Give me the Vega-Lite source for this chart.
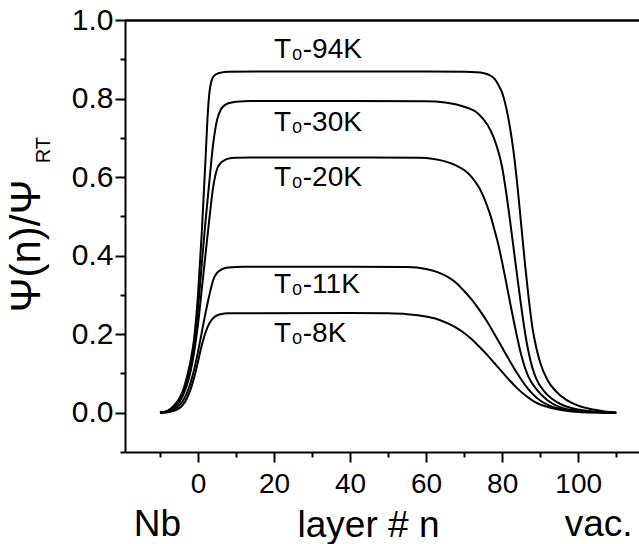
{
  "$schema": "https://vega.github.io/schema/vega-lite/v6.json",
  "width": 514,
  "height": 432,
  "autosize": {"type": "none"},
  "padding": {"left": 125, "top": 20, "right": 0, "bottom": 92},
  "background": "white",
  "config": {
    "view": {"stroke": null},
    "font": "Liberation Sans",
    "axis": {
      "domainColor": "black", "domainWidth": 2, "tickColor": "black", "tickWidth": 2,
      "labelColor": "black", "labelFont": "Liberation Sans", "grid": false,
      "titleColor": "black", "titleFont": "Liberation Sans", "titleFontWeight": "normal"
    }
  },
  "datasets": {
    "curves": [
      {"n": -10, "psi": 0, "T": "94K"}, {"n": -9, "psi": 0.002, "T": "94K"}, {"n": -8, "psi": 0.005, "T": "94K"}, {"n": -7, "psi": 0.012, "T": "94K"}, {"n": -6, "psi": 0.022, "T": "94K"}, {"n": -5, "psi": 0.035, "T": "94K"}, {"n": -4, "psi": 0.055, "T": "94K"}, {"n": -3, "psi": 0.088, "T": "94K"}, {"n": -2, "psi": 0.13, "T": "94K"}, {"n": -1, "psi": 0.19, "T": "94K"}, {"n": 0, "psi": 0.30, "T": "94K"}, {"n": 1, "psi": 0.46, "T": "94K"}, {"n": 2, "psi": 0.65, "T": "94K"}, {"n": 2.5, "psi": 0.75, "T": "94K"}, {"n": 3, "psi": 0.815, "T": "94K"}, {"n": 3.5, "psi": 0.843, "T": "94K"}, {"n": 4, "psi": 0.855, "T": "94K"}, {"n": 5, "psi": 0.863, "T": "94K"}, {"n": 6, "psi": 0.866, "T": "94K"}, {"n": 8, "psi": 0.868, "T": "94K"}, {"n": 20, "psi": 0.869, "T": "94K"}, {"n": 40, "psi": 0.869, "T": "94K"}, {"n": 60, "psi": 0.869, "T": "94K"}, {"n": 70, "psi": 0.868, "T": "94K"}, {"n": 73, "psi": 0.867, "T": "94K"}, {"n": 75, "psi": 0.865, "T": "94K"}, {"n": 77, "psi": 0.858, "T": "94K"}, {"n": 78, "psi": 0.85, "T": "94K"}, {"n": 79, "psi": 0.835, "T": "94K"}, {"n": 80, "psi": 0.815, "T": "94K"}, {"n": 81, "psi": 0.78, "T": "94K"}, {"n": 82, "psi": 0.73, "T": "94K"}, {"n": 83, "psi": 0.665, "T": "94K"}, {"n": 84, "psi": 0.58, "T": "94K"}, {"n": 85, "psi": 0.48, "T": "94K"}, {"n": 86, "psi": 0.38, "T": "94K"}, {"n": 87, "psi": 0.29, "T": "94K"}, {"n": 88, "psi": 0.215, "T": "94K"}, {"n": 89, "psi": 0.165, "T": "94K"}, {"n": 90, "psi": 0.128, "T": "94K"}, {"n": 92, "psi": 0.082, "T": "94K"}, {"n": 94, "psi": 0.056, "T": "94K"}, {"n": 97, "psi": 0.032, "T": "94K"}, {"n": 100, "psi": 0.018, "T": "94K"}, {"n": 104, "psi": 0.008, "T": "94K"}, {"n": 107, "psi": 0.003, "T": "94K"}, {"n": 110, "psi": 0, "T": "94K"},

      {"n": -10, "psi": 0, "T": "30K"}, {"n": -9, "psi": 0.002, "T": "30K"}, {"n": -8, "psi": 0.004, "T": "30K"}, {"n": -7, "psi": 0.01, "T": "30K"}, {"n": -6, "psi": 0.018, "T": "30K"}, {"n": -5, "psi": 0.03, "T": "30K"}, {"n": -4, "psi": 0.048, "T": "30K"}, {"n": -3, "psi": 0.075, "T": "30K"}, {"n": -2, "psi": 0.115, "T": "30K"}, {"n": -1, "psi": 0.175, "T": "30K"}, {"n": 0, "psi": 0.265, "T": "30K"}, {"n": 1, "psi": 0.38, "T": "30K"}, {"n": 2, "psi": 0.49, "T": "30K"}, {"n": 3, "psi": 0.59, "T": "30K"}, {"n": 4, "psi": 0.685, "T": "30K"}, {"n": 5, "psi": 0.745, "T": "30K"}, {"n": 6, "psi": 0.772, "T": "30K"}, {"n": 7, "psi": 0.783, "T": "30K"}, {"n": 8, "psi": 0.788, "T": "30K"}, {"n": 10, "psi": 0.792, "T": "30K"}, {"n": 14, "psi": 0.794, "T": "30K"}, {"n": 40, "psi": 0.794, "T": "30K"}, {"n": 60, "psi": 0.793, "T": "30K"}, {"n": 65, "psi": 0.79, "T": "30K"}, {"n": 68, "psi": 0.785, "T": "30K"}, {"n": 71, "psi": 0.776, "T": "30K"}, {"n": 73, "psi": 0.767, "T": "30K"}, {"n": 75, "psi": 0.748, "T": "30K"}, {"n": 77, "psi": 0.718, "T": "30K"}, {"n": 78, "psi": 0.695, "T": "30K"}, {"n": 79, "psi": 0.665, "T": "30K"}, {"n": 80, "psi": 0.625, "T": "30K"}, {"n": 81, "psi": 0.565, "T": "30K"}, {"n": 82, "psi": 0.495, "T": "30K"}, {"n": 83, "psi": 0.42, "T": "30K"}, {"n": 84, "psi": 0.345, "T": "30K"}, {"n": 85, "psi": 0.272, "T": "30K"}, {"n": 86, "psi": 0.205, "T": "30K"}, {"n": 87, "psi": 0.152, "T": "30K"}, {"n": 88, "psi": 0.113, "T": "30K"}, {"n": 89, "psi": 0.086, "T": "30K"}, {"n": 91, "psi": 0.055, "T": "30K"}, {"n": 93, "psi": 0.036, "T": "30K"}, {"n": 96, "psi": 0.019, "T": "30K"}, {"n": 100, "psi": 0.008, "T": "30K"}, {"n": 105, "psi": 0.002, "T": "30K"}, {"n": 110, "psi": 0, "T": "30K"},

      {"n": -10, "psi": 0, "T": "20K"}, {"n": -9, "psi": 0.001, "T": "20K"}, {"n": -8, "psi": 0.003, "T": "20K"}, {"n": -7, "psi": 0.008, "T": "20K"}, {"n": -6, "psi": 0.015, "T": "20K"}, {"n": -5, "psi": 0.026, "T": "20K"}, {"n": -4, "psi": 0.043, "T": "20K"}, {"n": -3, "psi": 0.068, "T": "20K"}, {"n": -2, "psi": 0.103, "T": "20K"}, {"n": -1, "psi": 0.155, "T": "20K"}, {"n": 0, "psi": 0.225, "T": "20K"}, {"n": 1, "psi": 0.315, "T": "20K"}, {"n": 2, "psi": 0.405, "T": "20K"}, {"n": 3, "psi": 0.495, "T": "20K"}, {"n": 4, "psi": 0.575, "T": "20K"}, {"n": 5, "psi": 0.62, "T": "20K"}, {"n": 6, "psi": 0.636, "T": "20K"}, {"n": 7, "psi": 0.643, "T": "20K"}, {"n": 8, "psi": 0.647, "T": "20K"}, {"n": 10, "psi": 0.649, "T": "20K"}, {"n": 14, "psi": 0.65, "T": "20K"}, {"n": 40, "psi": 0.65, "T": "20K"}, {"n": 58, "psi": 0.649, "T": "20K"}, {"n": 62, "psi": 0.646, "T": "20K"}, {"n": 65, "psi": 0.64, "T": "20K"}, {"n": 68, "psi": 0.629, "T": "20K"}, {"n": 70, "psi": 0.618, "T": "20K"}, {"n": 72, "psi": 0.6, "T": "20K"}, {"n": 74, "psi": 0.572, "T": "20K"}, {"n": 75, "psi": 0.552, "T": "20K"}, {"n": 76, "psi": 0.528, "T": "20K"}, {"n": 77, "psi": 0.5, "T": "20K"}, {"n": 78, "psi": 0.465, "T": "20K"}, {"n": 79, "psi": 0.428, "T": "20K"}, {"n": 80, "psi": 0.383, "T": "20K"}, {"n": 81, "psi": 0.335, "T": "20K"}, {"n": 82, "psi": 0.285, "T": "20K"}, {"n": 83, "psi": 0.236, "T": "20K"}, {"n": 84, "psi": 0.19, "T": "20K"}, {"n": 85, "psi": 0.148, "T": "20K"}, {"n": 86, "psi": 0.115, "T": "20K"}, {"n": 87, "psi": 0.09, "T": "20K"}, {"n": 89, "psi": 0.06, "T": "20K"}, {"n": 92, "psi": 0.031, "T": "20K"}, {"n": 95, "psi": 0.015, "T": "20K"}, {"n": 100, "psi": 0.005, "T": "20K"}, {"n": 105, "psi": 0.001, "T": "20K"}, {"n": 110, "psi": 0, "T": "20K"},

      {"n": -10, "psi": 0, "T": "11K"}, {"n": -9, "psi": 0.001, "T": "11K"}, {"n": -8, "psi": 0.002, "T": "11K"}, {"n": -7, "psi": 0.005, "T": "11K"}, {"n": -6, "psi": 0.01, "T": "11K"}, {"n": -5, "psi": 0.018, "T": "11K"}, {"n": -4, "psi": 0.03, "T": "11K"}, {"n": -3, "psi": 0.048, "T": "11K"}, {"n": -2, "psi": 0.075, "T": "11K"}, {"n": -1, "psi": 0.11, "T": "11K"}, {"n": 0, "psi": 0.155, "T": "11K"}, {"n": 1, "psi": 0.205, "T": "11K"}, {"n": 2, "psi": 0.255, "T": "11K"}, {"n": 3, "psi": 0.3, "T": "11K"}, {"n": 4, "psi": 0.338, "T": "11K"}, {"n": 5, "psi": 0.356, "T": "11K"}, {"n": 6, "psi": 0.364, "T": "11K"}, {"n": 7, "psi": 0.368, "T": "11K"}, {"n": 8, "psi": 0.37, "T": "11K"}, {"n": 12, "psi": 0.372, "T": "11K"}, {"n": 40, "psi": 0.372, "T": "11K"}, {"n": 55, "psi": 0.371, "T": "11K"}, {"n": 60, "psi": 0.366, "T": "11K"}, {"n": 63, "psi": 0.358, "T": "11K"}, {"n": 66, "psi": 0.344, "T": "11K"}, {"n": 68, "psi": 0.33, "T": "11K"}, {"n": 70, "psi": 0.31, "T": "11K"}, {"n": 72, "psi": 0.288, "T": "11K"}, {"n": 74, "psi": 0.262, "T": "11K"}, {"n": 76, "psi": 0.233, "T": "11K"}, {"n": 78, "psi": 0.2, "T": "11K"}, {"n": 80, "psi": 0.166, "T": "11K"}, {"n": 82, "psi": 0.132, "T": "11K"}, {"n": 84, "psi": 0.1, "T": "11K"}, {"n": 86, "psi": 0.071, "T": "11K"}, {"n": 88, "psi": 0.048, "T": "11K"}, {"n": 90, "psi": 0.031, "T": "11K"}, {"n": 92, "psi": 0.02, "T": "11K"}, {"n": 95, "psi": 0.01, "T": "11K"}, {"n": 100, "psi": 0.003, "T": "11K"}, {"n": 105, "psi": 0.001, "T": "11K"}, {"n": 110, "psi": 0, "T": "11K"},

      {"n": -10, "psi": 0, "T": "8K"}, {"n": -9, "psi": 0.0005, "T": "8K"}, {"n": -8, "psi": 0.001, "T": "8K"}, {"n": -7, "psi": 0.003, "T": "8K"}, {"n": -6, "psi": 0.006, "T": "8K"}, {"n": -5, "psi": 0.011, "T": "8K"}, {"n": -4, "psi": 0.02, "T": "8K"}, {"n": -3, "psi": 0.035, "T": "8K"}, {"n": -2, "psi": 0.058, "T": "8K"}, {"n": -1, "psi": 0.09, "T": "8K"}, {"n": 0, "psi": 0.13, "T": "8K"}, {"n": 1, "psi": 0.172, "T": "8K"}, {"n": 2, "psi": 0.205, "T": "8K"}, {"n": 3, "psi": 0.228, "T": "8K"}, {"n": 4, "psi": 0.241, "T": "8K"}, {"n": 5, "psi": 0.248, "T": "8K"}, {"n": 6, "psi": 0.251, "T": "8K"}, {"n": 8, "psi": 0.253, "T": "8K"}, {"n": 40, "psi": 0.254, "T": "8K"}, {"n": 50, "psi": 0.253, "T": "8K"}, {"n": 55, "psi": 0.251, "T": "8K"}, {"n": 60, "psi": 0.245, "T": "8K"}, {"n": 63, "psi": 0.238, "T": "8K"}, {"n": 66, "psi": 0.226, "T": "8K"}, {"n": 68, "psi": 0.216, "T": "8K"}, {"n": 70, "psi": 0.203, "T": "8K"}, {"n": 72, "psi": 0.187, "T": "8K"}, {"n": 74, "psi": 0.168, "T": "8K"}, {"n": 76, "psi": 0.148, "T": "8K"}, {"n": 78, "psi": 0.126, "T": "8K"}, {"n": 80, "psi": 0.104, "T": "8K"}, {"n": 82, "psi": 0.082, "T": "8K"}, {"n": 84, "psi": 0.062, "T": "8K"}, {"n": 86, "psi": 0.045, "T": "8K"}, {"n": 88, "psi": 0.031, "T": "8K"}, {"n": 90, "psi": 0.021, "T": "8K"}, {"n": 93, "psi": 0.012, "T": "8K"}, {"n": 96, "psi": 0.006, "T": "8K"}, {"n": 100, "psi": 0.002, "T": "8K"}, {"n": 105, "psi": 0.0005, "T": "8K"}, {"n": 110, "psi": 0, "T": "8K"}
    ],
    "labels": [
      {"n": 20, "psi": 0.9025, "text": "T₀-94K"},
      {"n": 20, "psi": 0.717, "text": "T₀-30K"},
      {"n": 20, "psi": 0.577, "text": "T₀-20K"},
      {"n": 20, "psi": 0.304, "text": "T₀-11K"},
      {"n": 20, "psi": 0.181, "text": "T₀-8K"}
    ],
    "sideLabels": [
      {"n": -10.7, "psi": -0.314, "text": "Nb"},
      {"n": 105.4, "psi": -0.314, "text": "vac."}
    ],
    "ytitle": [
      {"n": -41.6, "psi": 0.255, "text": "Ψ(n)/Ψ"}
    ],
    "ysub": [
      {"n": -39.0, "psi": 0.635, "text": "RT"}
    ],
    "frame": [{"a": -19.2, "b": 116, "v": 0.999}]
  },
  "resolve": {"axis": {"y": "independent", "x": "independent"}, "scale": {"y": "shared", "x": "shared"}},
  "layer": [
    {
      "data": {"name": "curves"},
      "mark": {"type": "line", "interpolate": "monotone", "color": "black", "strokeWidth": 2},
      "encoding": {
        "x": {
          "field": "n", "type": "quantitative",
          "scale": {"domain": [-19.2, 116], "nice": false, "zero": false},
          "axis": {
            "orient": "bottom",
            "values": [-10, 0, 10, 20, 30, 40, 50, 60, 70, 80, 90, 100, 110],
            "labelExpr": "(datum.value % 20 === 0 && datum.value <= 100) ? datum.label : ''",
            "format": "d",
            "tickSize": {"condition": {"test": "datum.value % 20 === 0", "value": 10}, "value": 5},
            "labelPadding": 8,
            "labelFontSize": 28,
            "labelOverlap": false,
            "labelFlush": false,
            "title": "layer # n",
            "titleFontSize": 37,
            "titleX": 243,
            "titleY": 84,
            "titleAlign": "center",
            "titleBaseline": "alphabetic"
          }
        },
        "y": {
          "field": "psi", "type": "quantitative",
          "scale": {"domain": [-0.1, 1.0], "nice": false, "zero": false},
          "axis": {
            "orient": "left",
            "values": [0, 0.2, 0.4, 0.6, 0.8, 1.0],
            "format": ".1f",
            "tickSize": 10,
            "labelPadding": 2,
            "labelFontSize": 30,
            "labelOverlap": false,
            "labelFlush": false,
            "title": null
          }
        },
        "detail": {"field": "T", "type": "nominal"}
      }
    },
    {
      "data": {"name": "frame"},
      "mark": {"type": "rule", "color": "black", "strokeWidth": 2},
      "encoding": {
        "x": {
          "field": "a", "type": "quantitative",
          "axis": {"orient": "top", "labels": false, "ticks": false, "domain": true, "title": null}
        },
        "x2": {"field": "b"},
        "y": {
          "field": "v", "type": "quantitative",
          "axis": {
            "orient": "left",
            "values": [-0.1, 0.1, 0.3, 0.5, 0.7, 0.9],
            "tickSize": 5,
            "labels": false,
            "domain": false,
            "title": null
          }
        }
      }
    },
    {
      "data": {"name": "labels"},
      "mark": {"type": "text", "align": "left", "baseline": "alphabetic", "fontSize": 28, "color": "black", "font": "Liberation Sans"},
      "encoding": {
        "x": {"field": "n", "type": "quantitative", "axis": null},
        "y": {"field": "psi", "type": "quantitative", "axis": null},
        "text": {"field": "text"}
      }
    },
    {
      "data": {"name": "sideLabels"},
      "mark": {"type": "text", "align": "center", "baseline": "alphabetic", "fontSize": 37, "color": "black", "font": "Liberation Sans", "clip": false},
      "encoding": {
        "x": {"field": "n", "type": "quantitative", "axis": null},
        "y": {"field": "psi", "type": "quantitative", "axis": null},
        "text": {"field": "text"}
      }
    },
    {
      "data": {"name": "ytitle"},
      "mark": {"type": "text", "align": "left", "baseline": "alphabetic", "angle": 270, "fontSize": 42, "color": "black", "font": "Liberation Sans"},
      "encoding": {
        "x": {"field": "n", "type": "quantitative", "axis": null},
        "y": {"field": "psi", "type": "quantitative", "axis": null},
        "text": {"field": "text"}
      }
    },
    {
      "data": {"name": "ysub"},
      "mark": {"type": "text", "align": "left", "baseline": "alphabetic", "angle": 270, "fontSize": 20, "color": "black", "font": "Liberation Sans"},
      "encoding": {
        "x": {"field": "n", "type": "quantitative", "axis": null},
        "y": {"field": "psi", "type": "quantitative", "axis": null},
        "text": {"field": "text"}
      }
    }
  ]
}
